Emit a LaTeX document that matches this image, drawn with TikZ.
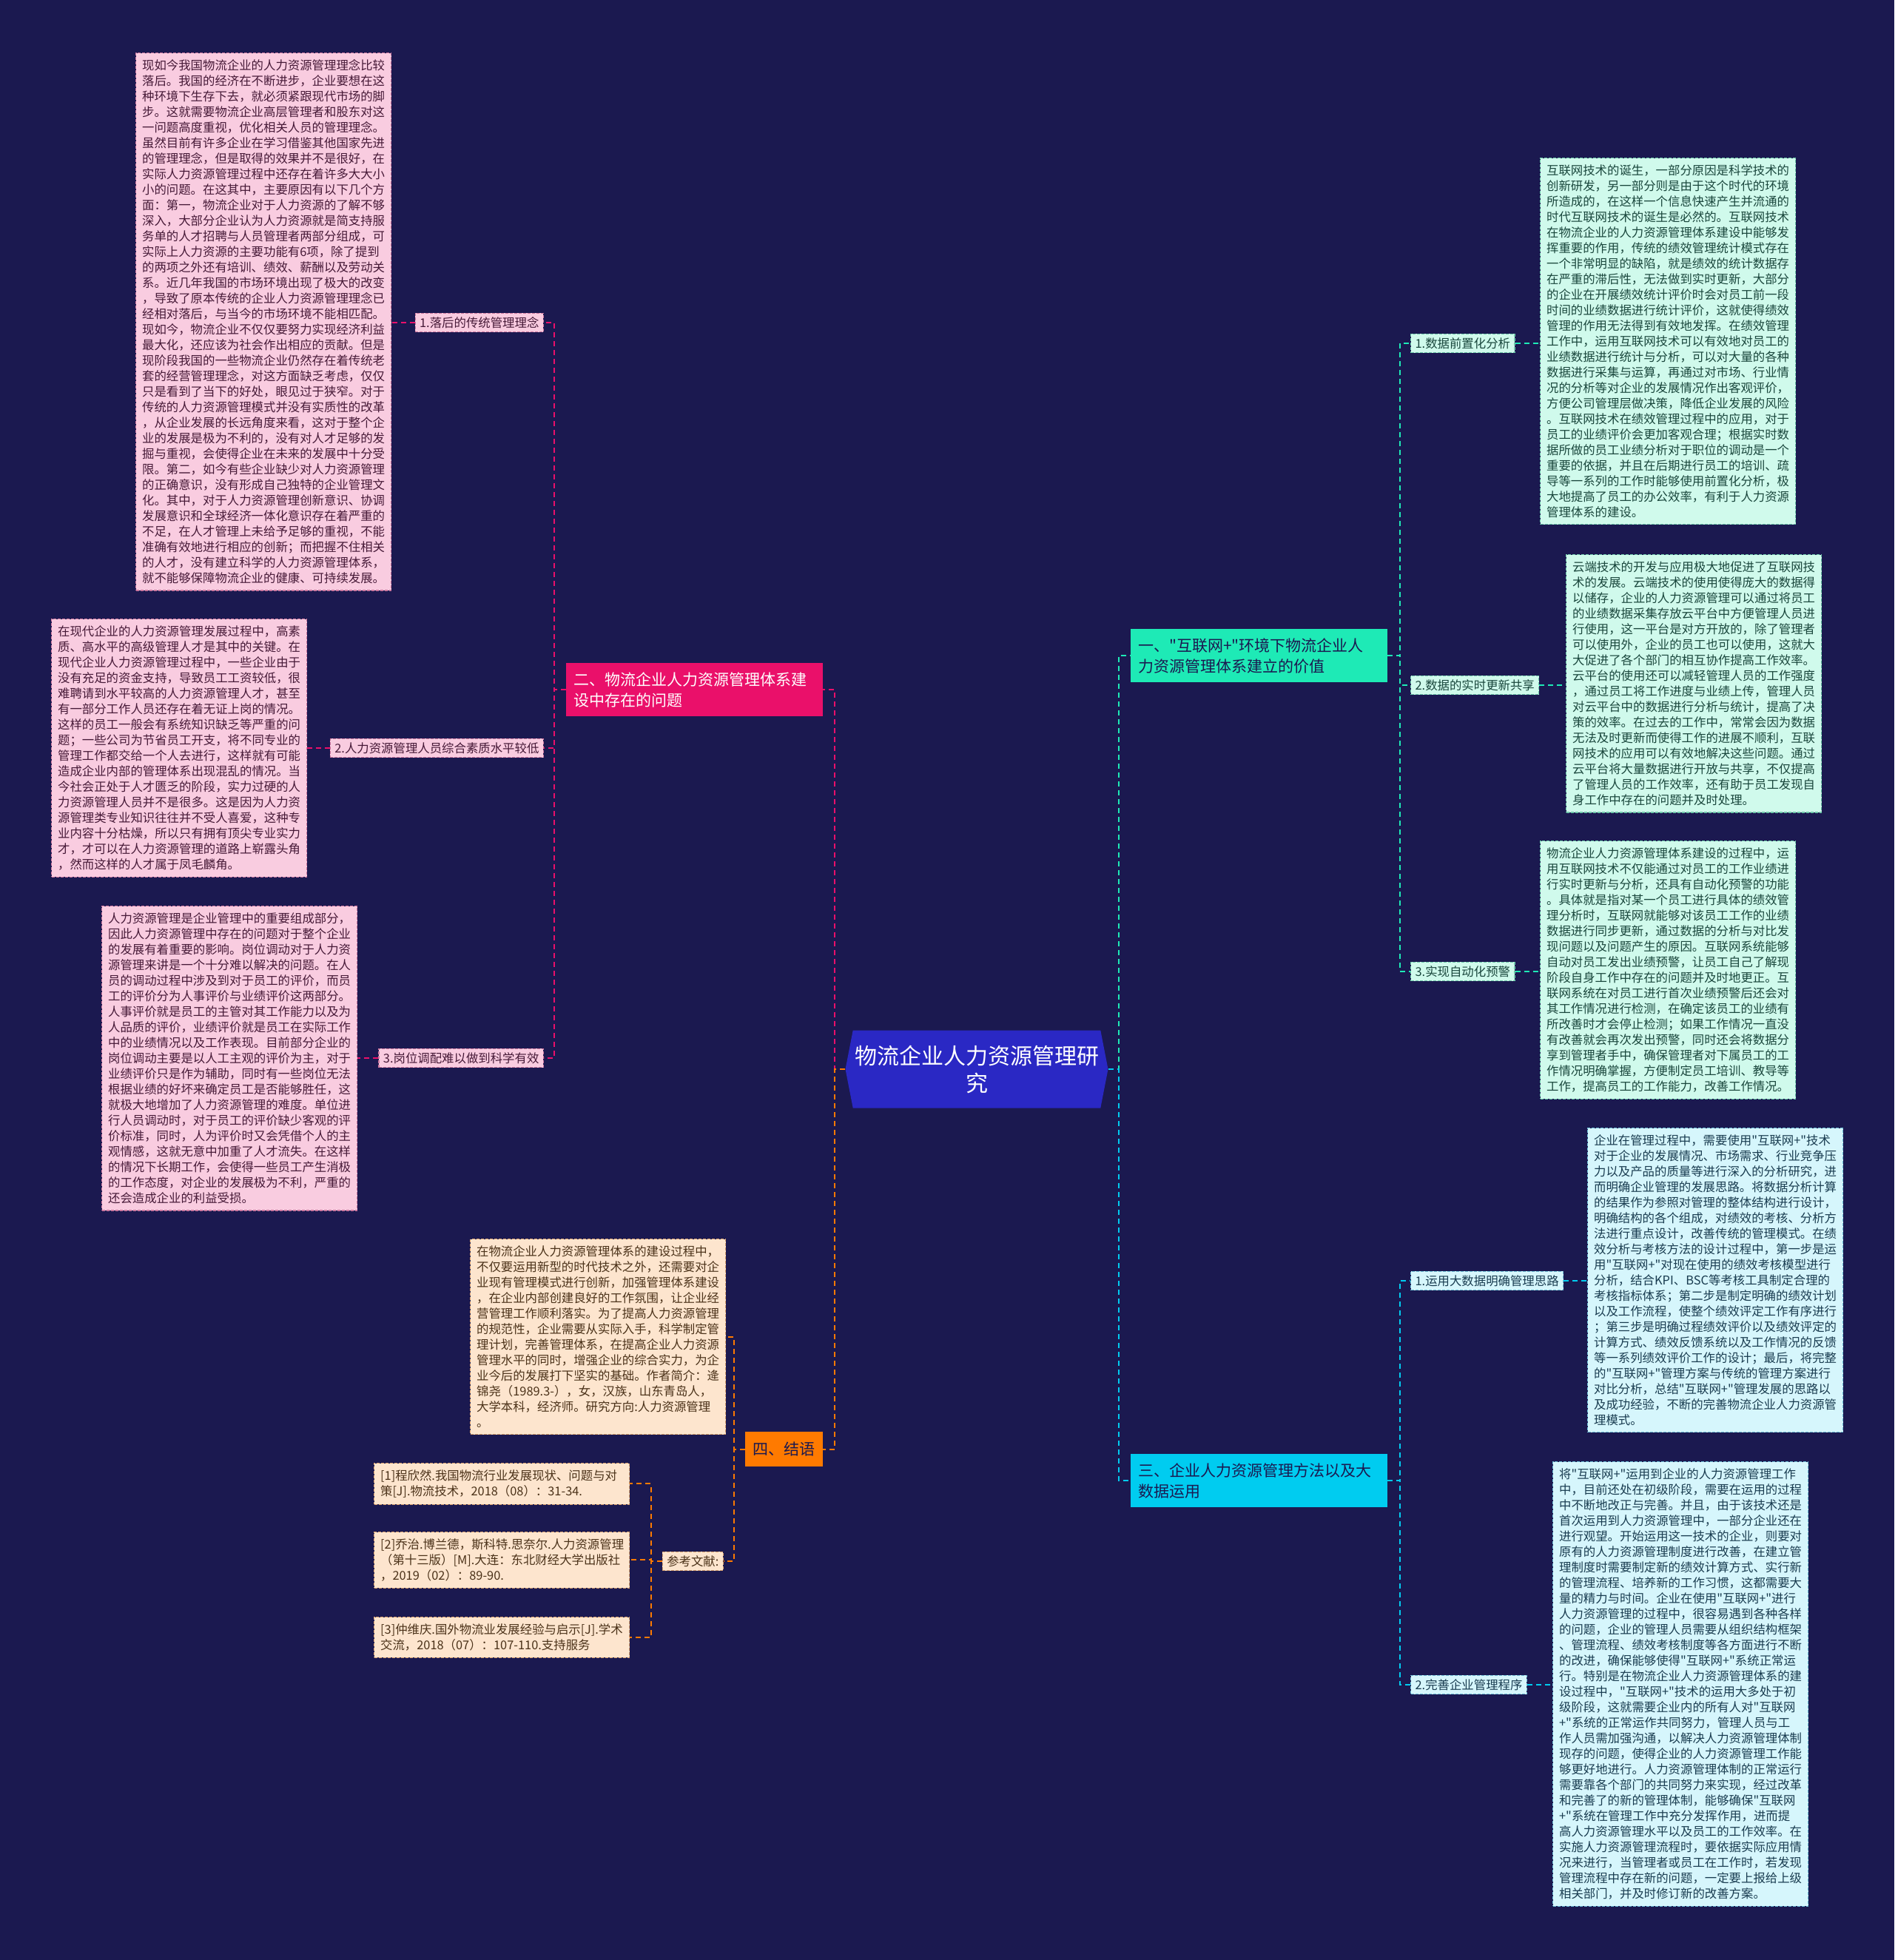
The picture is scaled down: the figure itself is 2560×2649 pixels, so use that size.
\documentclass[tikz,border=0pt]{standalone}
\usepackage{fontspec}
\setmainfont{Noto Sans CJK SC}[Ligatures=TeXOff]
\usetikzlibrary{positioning, shapes.symbols}
\definecolor{bgnavy}{RGB}{27,25,80}
\definecolor{rootblue}{RGB}{42,40,196}
\definecolor{magmain}{RGB}{234,16,106}
\definecolor{tealmain}{RGB}{30,234,182}
\definecolor{cyanmain}{RGB}{0,204,240}
\definecolor{orgmain}{RGB}{255,122,0}
\definecolor{pinkfill}{RGB}{249,204,224}
\definecolor{pinkline}{RGB}{205,120,160}
\definecolor{pinktext}{RGB}{70,25,55}
\definecolor{mintfill}{RGB}{208,250,236}
\definecolor{mintline}{RGB}{110,200,170}
\definecolor{minttext}{RGB}{25,70,60}
\definecolor{cyanfill}{RGB}{214,246,252}
\definecolor{cyanline}{RGB}{110,190,215}
\definecolor{cyantext}{RGB}{25,60,80}
\definecolor{peachfill}{RGB}{253,229,206}
\definecolor{peachline}{RGB}{215,160,110}
\definecolor{peachtext}{RGB}{75,50,25}
\newcommand\txtsize{\fontsize{16.4}{21}\selectfont}
\newcommand\headsize{\fontsize{21}{28}\selectfont}
\newcommand\rootsize{\fontsize{30}{37}\selectfont}

\begin{document}
\begin{tikzpicture}[
  x=1pt, y=-1pt,
  note/.style={draw, dash pattern=on 4pt off 2pt, line width=1.2pt, text width=328pt, align=left, inner xsep=8.5pt, inner ysep=9pt, font=\txtsize, anchor=north west},
  pinknote/.style={note, fill=pinkfill, draw=pinkline, text=pinktext},
  mintnote/.style={note, fill=mintfill, draw=mintline, text=minttext},
  cyannote/.style={note, fill=cyanfill, draw=cyanline, text=cyantext},
  peachnote/.style={note, fill=peachfill, draw=peachline, text=peachtext},
  tag/.style={draw, dash pattern=on 4pt off 2pt, line width=1.2pt, inner xsep=6pt, inner ysep=5pt, font=\txtsize},
  head/.style={text width=327pt, align=left, inner xsep=10pt, inner ysep=12pt, font=\headsize, anchor=north west},
  root/.style={shape=signal, signal to=east and west, signal pointer angle=158, fill=rootblue, text=white, minimum width=355pt, minimum height=105pt, align=center, font=\rootsize, inner sep=0pt},
  lnk/.style={line width=2pt, dash pattern=on 7pt off 5pt}
]
\fill[bgnavy] (0,0) rectangle (2560,2649);

\node[root] (root) at (1320,1445) {物流企业人力资源管理研\\究};

\node[head, fill=magmain, text=white] (prob) at (765,896) {二、物流企业人力资源管理体系建\\设中存在的问题};
\node[head, fill=tealmain, text=bgnavy] (value) at (1528,850) {一、"互联网+"环境下物流企业人\\力资源管理体系建立的价值};
\node[head, fill=cyanmain, text=bgnavy] (method) at (1528,1965) {三、企业人力资源管理方法以及大\\数据运用};
\node[font=\headsize, fill=orgmain, text=bgnavy, minimum width=105pt, minimum height=47pt, inner sep=0pt, anchor=north west] (concl) at (1007,1935) {四、结语};

\node[tag, fill=pinkfill, draw=pinkline, text=pinktext, anchor=east] (idea) at (735,436) {1.落后的传统管理理念};
\node[tag, fill=pinkfill, draw=pinkline, text=pinktext, anchor=east] (staff) at (735,1011) {2.人力资源管理人员综合素质水平较低};
\node[tag, fill=pinkfill, draw=pinkline, text=pinktext, anchor=east] (post) at (735,1430) {3.岗位调配难以做到科学有效};

\node[tag, fill=mintfill, draw=mintline, text=minttext, anchor=west] (front) at (1906,464) {1.数据前置化分析};
\node[tag, fill=mintfill, draw=mintline, text=minttext, anchor=west] (share) at (1906,926) {2.数据的实时更新共享};
\node[tag, fill=mintfill, draw=mintline, text=minttext, anchor=west] (alarm) at (1906,1313) {3.实现自动化预警};
\node[tag, fill=cyanfill, draw=cyanline, text=cyantext, anchor=west] (bigdata) at (1906,1731) {1.运用大数据明确管理思路};
\node[tag, fill=cyanfill, draw=cyanline, text=cyantext, anchor=west] (proc) at (1906,2277) {2.完善企业管理程序};

\node[tag, fill=peachfill, draw=peachline, text=peachtext, anchor=east] (refs) at (978,2110) {参考文献:};

\node[pinknote] (ideatxt) at (183,71) {现如今我国物流企业的人力资源管理理念比较\\落后。我国的经济在不断进步，企业要想在这\\种环境下生存下去，就必须紧跟现代市场的脚\\步。这就需要物流企业高层管理者和股东对这\\一问题高度重视，优化相关人员的管理理念。\\虽然目前有许多企业在学习借鉴其他国家先进\\的管理理念，但是取得的效果并不是很好，在\\实际人力资源管理过程中还存在着许多大大小\\小的问题。在这其中，主要原因有以下几个方\\面：第一，物流企业对于人力资源的了解不够\\深入，大部分企业认为人力资源就是简支持服\\务单的人才招聘与人员管理者两部分组成，可\\实际上人力资源的主要功能有6项，除了提到\\的两项之外还有培训、绩效、薪酬以及劳动关\\系。近几年我国的市场环境出现了极大的改变\\，导致了原本传统的企业人力资源管理理念已\\经相对落后，与当今的市场环境不能相匹配。\\现如今，物流企业不仅仅要努力实现经济利益\\最大化，还应该为社会作出相应的贡献。但是\\现阶段我国的一些物流企业仍然存在着传统老\\套的经营管理理念，对这方面缺乏考虑，仅仅\\只是看到了当下的好处，眼见过于狭窄。对于\\传统的人力资源管理模式并没有实质性的改革\\，从企业发展的长远角度来看，这对于整个企\\业的发展是极为不利的，没有对人才足够的发\\掘与重视，会使得企业在未来的发展中十分受\\限。第二，如今有些企业缺少对人力资源管理\\的正确意识，没有形成自己独特的企业管理文\\化。其中，对于人力资源管理创新意识、协调\\发展意识和全球经济一体化意识存在着严重的\\不足，在人才管理上未给予足够的重视，不能\\准确有效地进行相应的创新；而把握不住相关\\的人才，没有建立科学的人力资源管理体系，\\就不能够保障物流企业的健康、可持续发展。};
\node[pinknote] (stafftxt) at (69,836) {在现代企业的人力资源管理发展过程中，高素\\质、高水平的高级管理人才是其中的关键。在\\现代企业人力资源管理过程中，一些企业由于\\没有充足的资金支持，导致员工工资较低，很\\难聘请到水平较高的人力资源管理人才，甚至\\有一部分工作人员还存在着无证上岗的情况。\\这样的员工一般会有系统知识缺乏等严重的问\\题；一些公司为节省员工开支，将不同专业的\\管理工作都交给一个人去进行，这样就有可能\\造成企业内部的管理体系出现混乱的情况。当\\今社会正处于人才匮乏的阶段，实力过硬的人\\力资源管理人员并不是很多。这是因为人力资\\源管理类专业知识往往并不受人喜爱，这种专\\业内容十分枯燥，所以只有拥有顶尖专业实力\\才，才可以在人力资源管理的道路上崭露头角\\，然而这样的人才属于凤毛麟角。};
\node[pinknote] (posttxt) at (137,1224) {人力资源管理是企业管理中的重要组成部分，\\因此人力资源管理中存在的问题对于整个企业\\的发展有着重要的影响。岗位调动对于人力资\\源管理来讲是一个十分难以解决的问题。在人\\员的调动过程中涉及到对于员工的评价，而员\\工的评价分为人事评价与业绩评价这两部分。\\人事评价就是员工的主管对其工作能力以及为\\人品质的评价，业绩评价就是员工在实际工作\\中的业绩情况以及工作表现。目前部分企业的\\岗位调动主要是以人工主观的评价为主，对于\\业绩评价只是作为辅助，同时有一些岗位无法\\根据业绩的好坏来确定员工是否能够胜任，这\\就极大地增加了人力资源管理的难度。单位进\\行人员调动时，对于员工的评价缺少客观的评\\价标准，同时，人为评价时又会凭借个人的主\\观情感，这就无意中加重了人才流失。在这样\\的情况下长期工作，会使得一些员工产生消极\\的工作态度，对企业的发展极为不利，严重的\\还会造成企业的利益受损。};

\node[mintnote] (fronttxt) at (2081,213) {互联网技术的诞生，一部分原因是科学技术的\\创新研发，另一部分则是由于这个时代的环境\\所造成的，在这样一个信息快速产生并流通的\\时代互联网技术的诞生是必然的。互联网技术\\在物流企业的人力资源管理体系建设中能够发\\挥重要的作用，传统的绩效管理统计模式存在\\一个非常明显的缺陷，就是绩效的统计数据存\\在严重的滞后性，无法做到实时更新，大部分\\的企业在开展绩效统计评价时会对员工前一段\\时间的业绩数据进行统计评价，这就使得绩效\\管理的作用无法得到有效地发挥。在绩效管理\\工作中，运用互联网技术可以有效地对员工的\\业绩数据进行统计与分析，可以对大量的各种\\数据进行采集与运算，再通过对市场、行业情\\况的分析等对企业的发展情况作出客观评价，\\方便公司管理层做决策，降低企业发展的风险\\。互联网技术在绩效管理过程中的应用，对于\\员工的业绩评价会更加客观合理；根据实时数\\据所做的员工业绩分析对于职位的调动是一个\\重要的依据，并且在后期进行员工的培训、疏\\导等一系列的工作时能够使用前置化分析，极\\大地提高了员工的办公效率，有利于人力资源\\管理体系的建设。};
\node[mintnote] (sharetxt) at (2116,749) {云端技术的开发与应用极大地促进了互联网技\\术的发展。云端技术的使用使得庞大的数据得\\以储存，企业的人力资源管理可以通过将员工\\的业绩数据采集存放云平台中方便管理人员进\\行使用，这一平台是对方开放的，除了管理者\\可以使用外，企业的员工也可以使用，这就大\\大促进了各个部门的相互协作提高工作效率。\\云平台的使用还可以减轻管理人员的工作强度\\，通过员工将工作进度与业绩上传，管理人员\\对云平台中的数据进行分析与统计，提高了决\\策的效率。在过去的工作中，常常会因为数据\\无法及时更新而使得工作的进展不顺利，互联\\网技术的应用可以有效地解决这些问题。通过\\云平台将大量数据进行开放与共享，不仅提高\\了管理人员的工作效率，还有助于员工发现自\\身工作中存在的问题并及时处理。};
\node[mintnote] (alarmtxt) at (2081,1136) {物流企业人力资源管理体系建设的过程中，运\\用互联网技术不仅能通过对员工的工作业绩进\\行实时更新与分析，还具有自动化预警的功能\\。具体就是指对某一个员工进行具体的绩效管\\理分析时，互联网就能够对该员工工作的业绩\\数据进行同步更新，通过数据的分析与对比发\\现问题以及问题产生的原因。互联网系统能够\\自动对员工发出业绩预警，让员工自己了解现\\阶段自身工作中存在的问题并及时地更正。互\\联网系统在对员工进行首次业绩预警后还会对\\其工作情况进行检测，在确定该员工的业绩有\\所改善时才会停止检测；如果工作情况一直没\\有改善就会再次发出预警，同时还会将数据分\\享到管理者手中，确保管理者对下属员工的工\\作情况明确掌握，方便制定员工培训、教导等\\工作，提高员工的工作能力，改善工作情况。};
\node[cyannote] (bigdatatxt) at (2145,1524) {企业在管理过程中，需要使用"互联网+"技术\\对于企业的发展情况、市场需求、行业竞争压\\力以及产品的质量等进行深入的分析研究，进\\而明确企业管理的发展思路。将数据分析计算\\的结果作为参照对管理的整体结构进行设计，\\明确结构的各个组成，对绩效的考核、分析方\\法进行重点设计，改善传统的管理模式。在绩\\效分析与考核方法的设计过程中，第一步是运\\用"互联网+"对现在使用的绩效考核模型进行\\分析，结合KPI、BSC等考核工具制定合理的\\考核指标体系；第二步是制定明确的绩效计划\\以及工作流程，使整个绩效评定工作有序进行\\；第三步是明确过程绩效评价以及绩效评定的\\计算方式、绩效反馈系统以及工作情况的反馈\\等一系列绩效评价工作的设计；最后，将完整\\的"互联网+"管理方案与传统的管理方案进行\\对比分析，总结"互联网+"管理发展的思路以\\及成功经验，不断的完善物流企业人力资源管\\理模式。};
\node[cyannote] (proctxt) at (2098,1975) {将"互联网+"运用到企业的人力资源管理工作\\中，目前还处在初级阶段，需要在运用的过程\\中不断地改正与完善。并且，由于该技术还是\\首次运用到人力资源管理中，一部分企业还在\\进行观望。开始运用这一技术的企业，则要对\\原有的人力资源管理制度进行改善，在建立管\\理制度时需要制定新的绩效计算方式、实行新\\的管理流程、培养新的工作习惯，这都需要大\\量的精力与时间。企业在使用"互联网+"进行\\人力资源管理的过程中，很容易遇到各种各样\\的问题，企业的管理人员需要从组织结构框架\\、管理流程、绩效考核制度等各方面进行不断\\的改进，确保能够使得"互联网+"系统正常运\\行。特别是在物流企业人力资源管理体系的建\\设过程中，"互联网+"技术的运用大多处于初\\级阶段，这就需要企业内的所有人对"互联网\\+"系统的正常运作共同努力，管理人员与工\\作人员需加强沟通，以解决人力资源管理体制\\现存的问题，使得企业的人力资源管理工作能\\够更好地进行。人力资源管理体制的正常运行\\需要靠各个部门的共同努力来实现，经过改革\\和完善了的新的管理体制，能够确保"互联网\\+"系统在管理工作中充分发挥作用，进而提\\高人力资源管理水平以及员工的工作效率。在\\实施人力资源管理流程时，要依据实际应用情\\况来进行，当管理者或员工在工作时，若发现\\管理流程中存在新的问题，一定要上报给上级\\相关部门，并及时修订新的改善方案。};

\node[peachnote] (concltxt) at (635,1674) {在物流企业人力资源管理体系的建设过程中，\\不仅要运用新型的时代技术之外，还需要对企\\业现有管理模式进行创新，加强管理体系建设\\，在企业内部创建良好的工作氛围，让企业经\\营管理工作顺利落实。为了提高人力资源管理\\的规范性，企业需要从实际入手，科学制定管\\理计划，完善管理体系，在提高企业人力资源\\管理水平的同时，增强企业的综合实力，为企\\业今后的发展打下坚实的基础。作者简介：逄\\锦尧（1989.3-），女，汉族，山东青岛人，\\大学本科，经济师。研究方向:人力资源管理\\。};
\node[peachnote] (refa) at (505,1977) {[1]程欣然.我国物流行业发展现状、问题与对\\策[J].物流技术，2018（08）：31-34.};
\node[peachnote] (refb) at (505,2070) {[2]乔治.博兰德，斯科特.思奈尔.人力资源管理\\（第十三版）[M].大连：东北财经大学出版社\\，2019（02）：89-90.};
\node[peachnote] (refc) at (505,2185) {[3]仲维庆.国外物流业发展经验与启示[J].学术\\交流，2018（07）：107-110.支持服务};

\draw[lnk, magmain] (root.west) -- ++(-14,0) |- (prob.east);
\draw[lnk, orgmain] (root.west) -- ++(-14,0) |- (concl.east);
\draw[lnk, tealmain] (root.east) -- ++(14,0) |- (value.west);
\draw[lnk, cyanmain] (root.east) -- ++(14,0) |- (method.west);

\draw[lnk, magmain] (prob.west) -- ++(-16,0) |- (idea.east);
\draw[lnk, magmain] (prob.west) -- ++(-16,0) |- (staff.east);
\draw[lnk, magmain] (prob.west) -- ++(-16,0) |- (post.east);
\draw[lnk, magmain] (idea.west) -- (idea.west -| ideatxt.east);
\draw[lnk, magmain] (staff.west) -- (staff.west -| stafftxt.east);
\draw[lnk, magmain] (post.west) -- (post.west -| posttxt.east);

\draw[lnk, tealmain] (value.east) -- ++(17,0) |- (front.west);
\draw[lnk, tealmain] (value.east) -- ++(17,0) |- (share.west);
\draw[lnk, tealmain] (value.east) -- ++(17,0) |- (alarm.west);
\draw[lnk, tealmain] (front.east) -- (front.east -| fronttxt.west);
\draw[lnk, tealmain] (share.east) -- (share.east -| sharetxt.west);
\draw[lnk, tealmain] (alarm.east) -- (alarm.east -| alarmtxt.west);

\draw[lnk, cyanmain] (method.east) -- ++(17,0) |- (bigdata.west);
\draw[lnk, cyanmain] (method.east) -- ++(17,0) |- (proc.west);
\draw[lnk, cyanmain] (bigdata.east) -- (bigdata.east -| bigdatatxt.west);
\draw[lnk, cyanmain] (proc.east) -- (proc.east -| proctxt.west);

\draw[lnk, orgmain] (concl.west) -- ++(-15,0) |- (concltxt.east);
\draw[lnk, orgmain] (concl.west) -- ++(-15,0) |- (refs.east);
\draw[lnk, orgmain] (refs.west) -- ++(-15,0) |- (refa.east);
\draw[lnk, orgmain] (refs.west) -- ++(-15,0) |- (refb.east);
\draw[lnk, orgmain] (refs.west) -- ++(-15,0) |- (refc.east);
\end{tikzpicture}
\end{document}
